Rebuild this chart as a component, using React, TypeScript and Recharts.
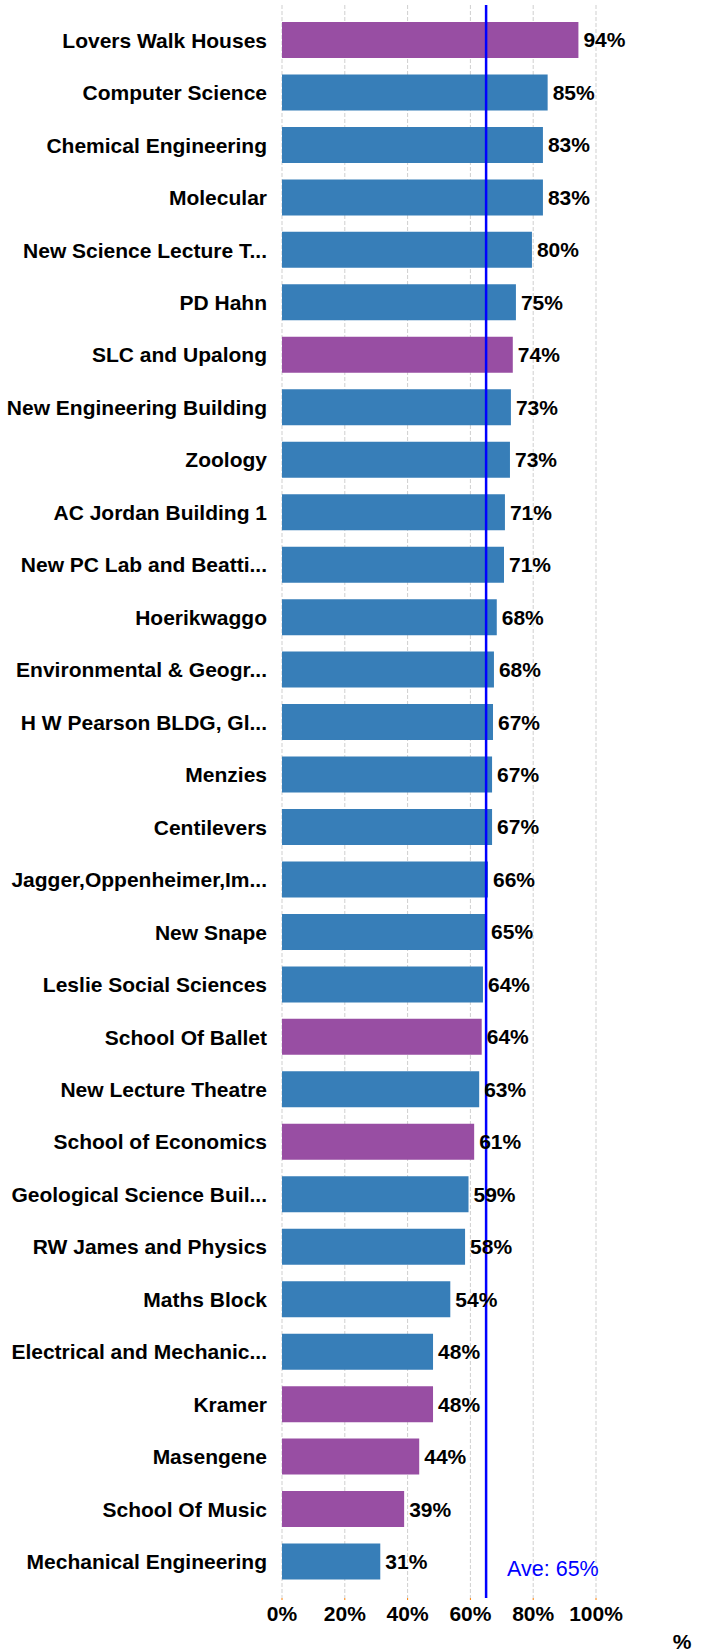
import { Bar, BarChart, CartesianGrid, Cell, LabelList, ReferenceLine, XAxis, YAxis } from "recharts";

// Buildings, top to bottom, with their share (%) and group
const buildings = [
  "Lovers Walk Houses",
  "Computer Science",
  "Chemical Engineering",
  "Molecular",
  "New Science Lecture T...",
  "PD Hahn",
  "SLC and Upalong",
  "New Engineering Building",
  "Zoology",
  "AC Jordan Building 1",
  "New PC Lab and Beatti...",
  "Hoerikwaggo",
  "Environmental & Geogr...",
  "H W Pearson BLDG, Gl...",
  "Menzies",
  "Centilevers",
  "Jagger,Oppenheimer,Im...",
  "New Snape",
  "Leslie Social Sciences",
  "School Of Ballet",
  "New Lecture Theatre",
  "School of Economics",
  "Geological Science Buil...",
  "RW James and Physics",
  "Maths Block",
  "Electrical and Mechanic...",
  "Kramer",
  "Masengene",
  "School Of Music",
  "Mechanical Engineering",
];

const percent = [
  94.4, 84.6, 83.1, 83.1, 79.6, 74.5, 73.5, 72.9, 72.6, 71.0,
  70.7, 68.4, 67.5, 67.2, 66.9, 66.9, 65.6, 65.0, 64.0, 63.6,
  62.8, 61.2, 59.4, 58.3, 53.6, 48.1, 48.1, 43.7, 38.9, 31.3,
];

// true = residence (purple), false = academic building (blue)
const residence = [
  true, false, false, false, false, false, true, false, false, false,
  false, false, false, false, false, false, false, false, false, true,
  false, true, false, false, false, false, true, true, true, false,
];

const xTicks = [0, 20, 40, 60, 80, 100];
const average = 65;

const data = buildings.map((name, i) => ({ name, value: percent[i], residence: residence[i] }));

const font = "'Liberation Sans', Arial, sans-serif";
const blue = "#377eb8";
const purple = "#984ea3";

export default function App() {
  return (
    <div style={{ position: "absolute", left: 0, top: 0, background: "#fff" }}>
      <BarChart
        width={704}
        height={1652}
        data={data}
        layout="vertical"
        margin={{ top: 5, right: 108, bottom: 0, left: 0 }}
        barSize={36}
      >
        <CartesianGrid horizontal={false} strokeDasharray="4 2" stroke="#cfcfcf" />
        <XAxis
          type="number"
          domain={[0, 100]}
          ticks={xTicks}
          height={54}
          axisLine={false}
          tickLine={{ stroke: "#ff7f00" }}
          tickSize={2}
          tickMargin={6}
          tickFormatter={(v) => `${v}%`}
          tick={{ fontSize: 21, fontWeight: "bold", fill: "#000", fontFamily: font }}
          label={{
            content: ({ viewBox }: any) => (
              <text
                x={viewBox.x + viewBox.width + 86}
                y={viewBox.y + 51}
                textAnchor="middle"
                fontSize={21}
                fontWeight="bold"
                fontFamily={font}
                fill="#000"
              >
                %
              </text>
            ),
          }}
        />
        <YAxis
          type="category"
          dataKey="name"
          width={282}
          axisLine={false}
          tickLine={false}
          tickMargin={9}
          interval={0}
          padding={{ top: 9, bottom: 10 }}
          tick={{ fontSize: 21, fontWeight: "bold", fill: "#000", fontFamily: font }}
        />
        <Bar dataKey="value" isAnimationActive={false}>
          {data.map((d) => (
            <Cell key={d.name} fill={d.residence ? purple : blue} />
          ))}
          <LabelList
            dataKey="value"
            position="right"
            offset={5}
            formatter={(v: any) => `${Math.round(Number(v))}%`}
            style={{ fontSize: 21, fontWeight: "bold", fill: "#000", fontFamily: font }}
          />
        </Bar>
        <ReferenceLine
          x={average}
          stroke="#0000ff"
          strokeWidth={2.5}
          label={{
            content: ({ viewBox }: any) => (
              <text
                x={viewBox.x + 21}
                y={viewBox.y + viewBox.height - 22}
                fontSize={21.5}
                fontFamily={font}
                fill="#0000ff"
              >
                {`Ave: ${average}%`}
              </text>
            ),
          }}
        />
      </BarChart>
    </div>
  );
}
